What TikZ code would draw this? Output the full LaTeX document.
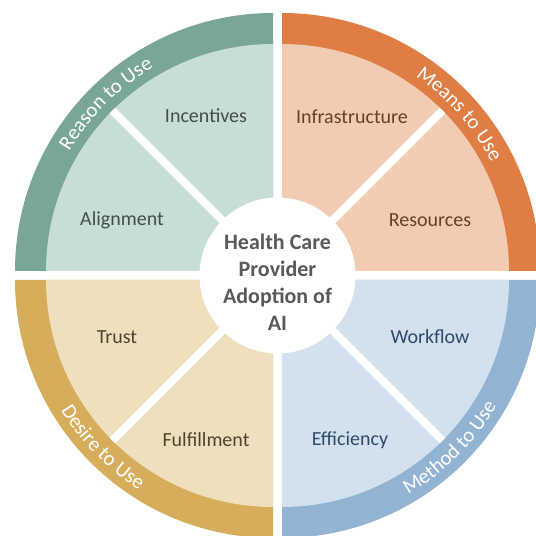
\documentclass[tikz,border=0pt]{standalone}
\usepackage{fontspec}
\setmainfont{Carlito}
\usetikzlibrary{decorations.text}
\definecolor{reasonring}{HTML}{79A698}
\definecolor{reasonfill}{HTML}{C8DDD6}
\definecolor{reasontext}{HTML}{3F4F4B}
\definecolor{meansring}{HTML}{E07D45}
\definecolor{meansfill}{HTML}{F2CCB2}
\definecolor{meanstext}{HTML}{6A3D26}
\definecolor{desirering}{HTML}{D6AE5B}
\definecolor{desirefill}{HTML}{EEDFBD}
\definecolor{desiretext}{HTML}{4E4530}
\definecolor{methodring}{HTML}{93B3D3}
\definecolor{methodfill}{HTML}{D3E1EE}
\definecolor{methodtext}{HTML}{2F4A6A}
\definecolor{hubtext}{HTML}{595959}
\newcommand{\ringfont}{\fontsize{15.5}{18}\selectfont\color{white}}
\begin{document}
\begin{tikzpicture}[x=0.75pt, y=0.75pt,
	spoke/.style={white, line width=6pt},
	part/.style={font=\fontsize{15}{18}\selectfont},
	ringtext/.style={decorate, decoration={text along path, text align=center, text={|\ringfont|#1}}}]
		\useasboundingbox (0,0) rectangle (536,536);
		\clip (0,0) rectangle (536,536);
		\fill[reasonring](273,265) -- ++(180:258) arc[start angle=180, end angle=90, radius=258] -- cycle;
		\fill[reasonfill](273,265) -- ++(180:227) arc[start angle=180, end angle=90, radius=227] -- cycle;
		\draw[spoke](273,265) -- ++(135:227);
		\fill[meansring](282,265) -- ++(90:258) arc[start angle=90, end angle=0, radius=258] -- cycle;
		\fill[meansfill](282,265) -- ++(90:227) arc[start angle=90, end angle=0, radius=227] -- cycle;
		\draw[spoke](282,265) -- ++(45:227);
		\fill[desirering](273,256) -- ++(180:258) arc[start angle=180, end angle=270, radius=258] -- cycle;
		\fill[desirefill](273,256) -- ++(180:227) arc[start angle=180, end angle=270, radius=227] -- cycle;
		\draw[spoke](273,256) -- ++(225:227);
		\fill[methodring](282,256) -- ++(270:258) arc[start angle=270, end angle=360, radius=258] -- cycle;
		\fill[methodfill](282,256) -- ++(270:227) arc[start angle=270, end angle=360, radius=227] -- cycle;
		\draw[spoke](282,256) -- ++(315:227);
		\path[ringtext=Reason to Use](273,265) ++(180:236) arc[start angle=180, end angle=90, radius=236];
		\path[ringtext=Means to Use](282,265) ++(86:236) arc[start angle=86, end angle=-3, radius=236];
		\path[ringtext=Desire to Use](273,256) ++(180:249) arc[start angle=180, end angle=269, radius=249];
		\path[ringtext=Method to Use](282,256) ++(270:249) arc[start angle=270, end angle=360, radius=249];
		\fill[white](277.5,260.5) circle[radius=78];
		\node[align=center, text=hubtext, font=\bfseries\fontsize{16.5}{20.3}\selectfont] (hub) at (277.5,254) {Health Care\\Provider\\Adoption of\\AI};
		\node[part, text=reasontext] (incentives) at (206,420) {Incentives};
		\node[part, text=reasontext] (alignment) at (122,316) {Alignment};
		\node[part, text=meanstext] (infrastructure) at (352,419) {Infrastructure};
		\node[part, text=meanstext] (resources) at (430,316) {Resources};
		\node[part, text=desiretext] (trust) at (117,199) {Trust};
		\node[part, text=desiretext] (fulfillment) at (206,96) {Fulfillment};
		\node[part, text=methodtext] (workflow) at (430,199) {Workflow};
		\node[part, text=methodtext] (efficiency) at (350,96) {Efficiency};
	\end{tikzpicture}
\end{document}
